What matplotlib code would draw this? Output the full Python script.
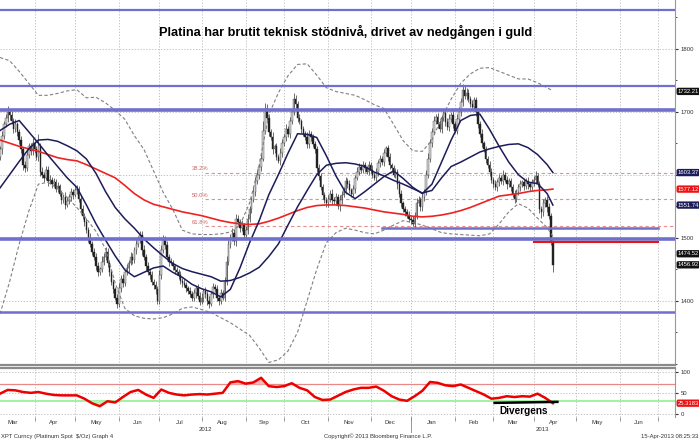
import numpy as np
import pandas as pd
import matplotlib
matplotlib.use('Agg')
import matplotlib.pyplot as plt
from matplotlib.transforms import blended_transform_factory as btf

plt.rcParams['font.family'] = ['Liberation Sans', 'DejaVu Sans']

# ---------------- data ----------------
start_date = '2012-03-07'
title = 'Platina har brutit teknisk stödnivå, drivet av nedgången i guld'

first_open = 1628
closes = [
    1640, 1662, 1680, 1690, 1700, 1695, 1685, 1672, 1680, 1668,
    1655, 1640, 1615, 1610, 1632, 1645, 1638, 1650, 1640, 1628,
    1645, 1605, 1600, 1595, 1608, 1590, 1592, 1585, 1588, 1578,
    1582, 1570, 1560, 1565, 1552, 1558, 1565, 1572, 1568, 1575,
    1578, 1562, 1545, 1535, 1525, 1512, 1500, 1490, 1478, 1470,
    1455, 1445, 1450, 1462, 1470, 1478, 1460, 1445, 1430, 1418,
    1405, 1395, 1420, 1435, 1428, 1445, 1452, 1460, 1470, 1465,
    1480, 1490, 1498, 1505, 1480, 1470, 1455, 1445, 1440, 1430,
    1425, 1418, 1400, 1440, 1480, 1498, 1488, 1470, 1462, 1460,
    1455, 1448, 1445, 1440, 1432, 1428, 1425, 1420, 1415, 1410,
    1405, 1412, 1420, 1408, 1398, 1404, 1415, 1410, 1400, 1395,
    1410, 1422, 1418, 1405, 1400, 1412, 1405, 1430, 1462, 1490,
    1500, 1508, 1495, 1530, 1525, 1515, 1520, 1505, 1512, 1530,
    1545, 1560, 1572, 1590, 1600, 1612, 1625, 1670, 1705, 1690,
    1668, 1660, 1640, 1645, 1628, 1622, 1635, 1650, 1660, 1672,
    1665, 1685, 1700, 1720, 1712, 1690, 1685, 1672, 1665, 1660,
    1648, 1665, 1660, 1648, 1640, 1610, 1598, 1580, 1568, 1560,
    1555, 1562, 1570, 1560, 1558, 1565, 1550, 1560, 1568, 1575,
    1590, 1585, 1575, 1570, 1578, 1595, 1605, 1612, 1608, 1615,
    1610, 1605, 1615, 1608, 1600, 1595, 1605, 1618, 1625, 1620,
    1635, 1642, 1628, 1615, 1610, 1600, 1605, 1585, 1570, 1555,
    1545, 1540, 1535, 1530, 1528, 1522, 1535, 1555, 1560, 1548,
    1565, 1572, 1600, 1625, 1650, 1668, 1685, 1692, 1680, 1672,
    1690, 1698, 1684, 1675, 1688, 1695, 1680, 1670, 1688, 1700,
    1715, 1735, 1725, 1730, 1720, 1712, 1708, 1718, 1700, 1680,
    1665, 1650, 1640, 1625, 1615, 1605, 1592, 1585, 1580, 1588,
    1595, 1590, 1600, 1592, 1585, 1590, 1580, 1570, 1562, 1572,
    1580, 1585, 1588, 1582, 1590, 1585, 1580, 1588, 1592, 1598,
    1585, 1545, 1540, 1555, 1560, 1548, 1535, 1495, 1456.92,
]
wick_up = [
    6, 8, 5, 7, 9, 4, 6, 5, 8, 4,  5, 7, 4, 6, 8, 5, 6, 9, 4, 6,
    20, 5, 7, 4, 6, 5, 8, 4, 6, 5,  7, 4, 6, 5, 8, 6, 4, 7, 5, 9,
    6, 4, 5, 7, 4, 6, 5, 8, 4, 6,  5, 7, 4, 9, 6, 8, 5, 4, 6, 5,
    4, 6, 8, 5, 7, 4, 6, 5, 8, 6,  5, 7, 4, 6, 5, 8, 4, 6, 5, 7,
    4, 6, 5, 8, 9, 6, 5, 7, 4, 6,  5, 4, 6, 5, 7, 4, 6, 5, 4, 6,
    5, 7, 4, 6, 5, 8, 4, 6, 5, 7,  4, 6, 5, 7, 4, 6, 5, 8, 9, 7,
    6, 8, 5, 7, 6, 5, 8, 4, 6, 7,  6, 5, 8, 6, 7, 5, 8, 15, 9, 7,
    6, 5, 8, 4, 6, 5, 7, 6, 5, 8,  6, 7, 5, 10, 6, 5, 7, 4, 6, 5,
    7, 6, 5, 4, 6, 5, 7, 4, 6, 5,  4, 6, 5, 7, 4, 6, 5, 7, 6, 5,
    7, 5, 6, 4, 6, 5, 7, 6, 5, 6,  5, 4, 6, 5, 7, 4, 6, 5, 7, 5,
    6, 4, 5, 7, 4, 6, 5, 4, 6, 5,  4, 6, 5, 7, 4, 6, 5, 8, 6, 5,
    7, 6, 8, 9, 7, 6, 8, 5, 6, 7,  5, 6, 7, 6, 8, 5, 7, 6, 8, 7,
    6, 9, 5, 7, 6, 5, 7, 6, 5, 6,  5, 7, 4, 6, 5, 6, 5, 4, 6, 5,
    6, 5, 7, 4, 6, 5, 4, 6, 5, 6,  5, 6, 4, 6, 5, 6, 4, 5, 6, 8,
    4, 5, 6, 7, 5, 6, 7, 4, 2,
]
wick_dn = [
    5, 7, 6, 4, 6, 8, 5, 6, 4, 7,  6, 5, 8, 6, 4, 5, 7, 6, 5, 4,
    6, 7, 5, 6, 4, 8, 5, 6, 4, 5,  6, 4, 7, 5, 6, 4, 5, 7, 6, 4,
    5, 6, 8, 5, 6, 4, 7, 5, 6, 5,  7, 6, 4, 5, 6, 5, 7, 6, 5, 6,
    4, 6, 5, 7, 6, 4, 5, 6, 4, 7,  5, 6, 4, 6, 7, 5, 6, 4, 6, 5,
    6, 7, 5, 6, 5, 4, 6, 5, 7, 4,  6, 5, 4, 6, 5, 7, 4, 6, 5, 4,
    6, 5, 7, 6, 5, 4, 6, 5, 7, 6,  4, 6, 5, 6, 7, 5, 4, 6, 5, 6,
    7, 5, 6, 8, 5, 6, 4, 7, 5, 6,  5, 6, 4, 6, 5, 7, 6, 4, 5, 7,
    6, 5, 7, 6, 5, 4, 6, 7, 5, 6,  5, 6, 4, 5, 6, 7, 5, 6, 4, 5,
    6, 5, 7, 4, 6, 5, 6, 4, 7, 5,  6, 7, 5, 6, 4, 6, 5, 7, 6, 4,
    5, 6, 4, 6, 5, 7, 4, 6, 5, 6,  5, 4, 6, 5, 6, 4, 5, 7, 6, 5,
    6, 5, 7, 6, 5, 4, 6, 7, 5, 6,  5, 6, 4, 5, 6, 3, 6, 5, 4, 6,
    5, 6, 4, 6, 5, 6, 4, 5, 6, 5,  6, 5, 7, 4, 6, 5, 6, 4, 5, 6,
    7, 6, 5, 6, 4, 5, 6, 5, 7, 6,  5, 6, 4, 6, 5, 7, 5, 6, 4, 6,
    6, 5, 6, 4, 7, 5, 6, 5, 7, 6,  5, 6, 4, 6, 5, 7, 6, 5, 6, 7,
    5, 6, 8, 5, 6, 7, 6, 7, 12,
]

# moving averages / bands sampled every 5 trading days
ma_days = list(range(0, 286, 5)) + [288]
ma_fast = [1670, 1680, 1686, 1668, 1650, 1631, 1613, 1595, 1580, 1552,
           1522, 1496, 1471, 1449, 1438, 1445, 1452, 1455, 1445, 1437,
           1426, 1419, 1414, 1406, 1418, 1452, 1492, 1527, 1568, 1600,
           1634, 1665, 1664, 1659, 1630, 1598, 1572, 1562, 1573, 1585,
           1597, 1606, 1594, 1580, 1570, 1585, 1620, 1655, 1686, 1694,
           1696, 1672, 1645, 1620, 1600, 1588, 1586, 1570, 1551.74]
ma_slow = [1579, 1600, 1621, 1641, 1655, 1656, 1653, 1646, 1638, 1625,
           1602, 1573, 1548, 1530, 1515, 1498, 1484, 1471, 1459, 1451,
           1446, 1442, 1438, 1431, 1432, 1437, 1444, 1453, 1470, 1490,
           1520, 1549, 1575, 1600, 1615, 1618, 1619, 1617, 1613, 1604,
           1598, 1591, 1585, 1578, 1571, 1575, 1595, 1613, 1620, 1628,
           1636, 1641, 1645, 1648, 1649, 1643, 1632, 1616, 1603.37]
ma_long = [1655, 1650, 1645, 1641, 1637, 1632, 1627, 1624, 1622, 1616,
           1609, 1602, 1595, 1583, 1570, 1560, 1553, 1549, 1545, 1541,
           1538, 1535, 1531, 1527, 1524, 1522, 1521, 1522, 1526, 1531,
           1537, 1543, 1548, 1551, 1552, 1552, 1551, 1549, 1547, 1544,
           1541, 1539, 1537, 1534, 1533, 1534, 1536, 1539, 1543, 1548,
           1554, 1560, 1566, 1568, 1570, 1573, 1575, 1576, 1577.12]
bb_upper = [1786, 1781, 1764, 1745, 1726, 1726, 1729, 1733, 1735, 1722,
            1723, 1714, 1702, 1688, 1662, 1640, 1606, 1572, 1545, 1512,
            1506, 1505, 1505, 1506, 1509, 1520, 1555, 1615, 1695, 1730,
            1757, 1775, 1776, 1758, 1738, 1732, 1729, 1726, 1719, 1711,
            1705, 1680, 1654, 1638, 1637, 1655, 1690, 1720, 1745, 1760,
            1769, 1770, 1764, 1758, 1752, 1752, 1746, 1738, 1733]
bb_lower = [1379, 1430, 1490, 1542, 1585, 1588, 1578, 1564, 1548, 1530,
            1510, 1482, 1428, 1388, 1376, 1372, 1371, 1373, 1379, 1388,
            1390, 1386, 1381, 1373, 1365, 1355, 1345, 1325, 1302, 1306,
            1320, 1350, 1400, 1450, 1492, 1508, 1515, 1512, 1508, 1506,
            1512, 1520, 1527, 1524, 1520, 1514, 1508, 1506, 1505, 1504,
            1503, 1506, 1522, 1541, 1554, 1547, 1531, 1516, 1502]

rsi_days = list(range(0, 289, 4))
rsi = [48, 57, 56, 52, 50, 52, 48, 45, 44, 44, 44, 36, 25, 18, 30, 27, 40, 52, 57, 46,
       38, 58, 50, 46, 44, 46, 47, 46, 48, 50, 75, 78, 72, 75, 86, 66, 64, 66, 73, 62,
       56, 40, 33, 34, 43, 52, 58, 62, 62, 65, 55, 42, 34, 31, 42, 55, 76, 74, 68, 66,
       70, 62, 54, 46, 36, 38, 42, 40, 42, 41, 48, 38, 25.32]
rsi_upper, rsi_lower = 70, 30
divergence_days = [257, 291]
divergence_rsi = [26, 28.5]

levels_full = [1861, 1740, 1703, 1498, 1382]
levels_full_width = [1.6, 1.6, 2.6, 2.6, 1.8]
support_short = (1516, '2012-12-11', '2013-07-01')
break_line = (1493, '2013-04-01', '2013-07-01')
fib_low, fib_high = 1382, 1740
fib_ratios = [0.382, 0.5, 0.618]
fib_start = '2012-07-25'

tag_values = [1732.21, 1603.37, 1577.12, 1551.74, 1474.52, 1456.92]
tag_colors = ['#111111', '#1c1c5a', '#ee1111', '#1c1c5a', '#111111', '#111111']
rsi_tag = 25.3183

# ---------------- layout ----------------
W, H = 699, 440
fig = plt.figure(figsize=(W / 100, H / 100), dpi=100)
fig.patch.set_facecolor('white')
ax = fig.add_axes([0, 75 / H, 675 / W, 365 / H])
ax2 = fig.add_axes([0, 23 / H, 675 / W, 49 / H])

n_view = 351.6
days = pd.bdate_range('2012-03-01', '2013-07-31')
off = days.get_loc(pd.Timestamp(start_date))
pos = np.arange(len(days)) - off

def day_index(d):
    return pos[days.get_loc(pd.Timestamp(d))]

months = pd.Series(pos, index=days).groupby([days.year, days.month])
month_starts, month_centers, month_names = [], [], []
for (yy, mm), s in months:
    st, en = s.iloc[0], s.iloc[-1]
    if 0 < st < n_view:
        month_starts.append(st)
    cen = (st + en) / 2
    if 0 < cen < n_view - 8:
        month_centers.append(cen)
        month_names.append(pd.Timestamp(year=yy, month=mm, day=1).strftime('%b'))

grid_kw = dict(color='#b8b8b8', lw=0.6, ls=(0, (1.5, 2)), zorder=0.5)
for a in (ax, ax2):
    for m in month_starts:
        a.axvline(m, **grid_kw)
for yv in [1300, 1400, 1500, 1600, 1700, 1800]:
    ax.axhline(yv, **grid_kw)
for yv in [0, 50, 100]:
    ax2.axhline(yv, **grid_kw)

# candles
c = np.array(closes, dtype=float)
o = np.concatenate([[first_open], c[:-1]])
hi = np.maximum(o, c) + np.array(wick_up)
lo = np.minimum(o, c) - np.array(wick_dn)
idx = np.arange(len(c))
up = c >= o
ax.vlines(idx, lo, hi, color='#444444', lw=0.55, zorder=2)
ax.bar(idx[up], (c - o)[up], bottom=o[up], width=0.8, color='#d4d4d4',
       edgecolor='#444444', lw=0.3, zorder=2.2)
ax.bar(idx[~up], (o - c)[~up], bottom=c[~up], width=0.8, color='#222222',
       edgecolor='#222222', lw=0.3, zorder=2.2)

# indicators
ax.plot(ma_days, bb_upper, color='#808080', lw=0.8, ls=(0, (3, 2)), zorder=2.6)
ax.plot(ma_days, bb_lower, color='#808080', lw=0.8, ls=(0, (3, 2)), zorder=2.6)
ax.plot(ma_days, ma_long, color='#ee2222', lw=1.2, zorder=3)
ax.plot(ma_days, ma_slow, color='#1c1c5a', lw=1.1, zorder=3)
ax.plot(ma_days, ma_fast, color='#1c1c5a', lw=1.1, zorder=3)

# levels
lvl_color = '#6f6fcc'
for yv, lw in zip(levels_full, levels_full_width):
    ax.axhline(yv, color=lvl_color, lw=lw, zorder=3.5)
yv, d0, d1 = support_short
ax.plot([day_index(d0), day_index(d1)], [yv, yv], color=lvl_color, lw=1.8, zorder=3.5)
yv, d0, d1 = break_line
ax.plot([day_index(d0), day_index(d1)], [yv, yv], color='#ee1111', lw=1.5, zorder=3.6)

# fibonacci
fs = day_index(fib_start)
for r in fib_ratios:
    fv = fib_high - r * (fib_high - fib_low)
    ax.plot([fs + 7, n_view], [fv, fv], color='#e39090', lw=0.8, ls=(0, (3, 2.5)), zorder=1.8)
    ax.text(fs, fv + 2, f'{r * 100:.1f}%', color='#d06060', fontsize=4.2,
            ha='left', va='bottom', zorder=4)

ax.set_xlim(0, n_view)
ax.set_ylim(1297.9, 1877.3)

ax.yaxis.tick_right()
ax.set_yticks([1400, 1500, 1600, 1700, 1800])
ax.set_yticklabels(['1400', '1500', '', '1700', '1800'])
ax.set_yticks([1300, 1350, 1450, 1550, 1650, 1750, 1850], minor=True)
ax.tick_params(axis='y', which='major', length=2.5, width=0.8, pad=1.5,
               labelsize=4.3, labelcolor='#333333', color='#333333')
ax.tick_params(axis='y', which='minor', length=1.5, width=0.6, color='#333333')
ax.set_xticks([])
for s in ['left', 'top']:
    ax.spines[s].set_visible(False)
ax.spines['right'].set_color('#999999')
ax.spines['bottom'].set_color('#8a8a8a')
ax.spines['bottom'].set_linewidth(1.6)

trans = btf(ax.transAxes, ax.transData)
for v, col in zip(tag_values, tag_colors):
    ax.text(1.004, v, f'{v:.2f}', transform=trans, ha='left', va='center',
            fontsize=4.2, color='white', zorder=10, clip_on=False,
            bbox=dict(boxstyle='round,pad=0.2,rounding_size=0.3', fc=col, ec='none'))

# ---------------- RSI panel ----------------
rd = np.array(rsi_days, dtype=float)
rv = np.array(rsi, dtype=float)
ax2.axhline(rsi_upper, color='#e88888', lw=0.9, zorder=1)
ax2.axhline(rsi_lower, color='#88ee88', lw=1.1, zorder=1)
ax2.fill_between(rd, rv, rsi_upper, where=rv > rsi_upper, interpolate=True,
                 color='#f3b8b8', lw=0, zorder=1.5)
ax2.fill_between(rd, rv, rsi_lower, where=rv < rsi_lower, interpolate=True,
                 color='#b8f0b8', lw=0, zorder=1.5)
ax2.plot(rd, rv, color='#ee0000', lw=1.8, zorder=3)
ax2.plot(divergence_days, divergence_rsi, color='black', lw=1.8, zorder=4,
         solid_capstyle='butt', clip_on=False)
ax2.text(np.mean(divergence_days) - 1, 7, 'Divergens', fontsize=7.2, fontweight='bold',
         ha='center', va='center', zorder=5, clip_on=False)

ax2.set_xlim(0, n_view)
ax2.set_ylim(-7.7, 109.4)
ax2.yaxis.tick_right()
ax2.set_yticks([0, 50, 100])
ax2.tick_params(axis='y', length=2.5, width=0.8, pad=1.5, labelsize=4.3,
                labelcolor='#333333', color='#333333')
ax2.set_xticks(month_starts)
ax2.set_xticklabels([])
ax2.set_xticks(month_centers, minor=True)
ax2.set_xticklabels(month_names, minor=True)
ax2.tick_params(axis='x', which='major', length=3, width=0.6, color='#888888', direction='out')
ax2.tick_params(axis='x', which='minor', length=0, pad=2, labelsize=4.3, labelcolor='#333333')
ax2.spines['left'].set_visible(False)
ax2.spines['bottom'].set_visible(False)
ax2.spines['right'].set_color('#999999')
ax2.spines['top'].set_color('#8a8a8a')
ax2.spines['top'].set_linewidth(1.6)

t2 = btf(ax2.transAxes, ax2.transData)
ax2.text(1.004, rsi_tag, f'{rsi_tag:.4f}', transform=t2, ha='left', va='center',
         fontsize=4.2, color='white', zorder=10, clip_on=False,
         bbox=dict(boxstyle='round,pad=0.2,rounding_size=0.3', fc='#ee1111', ec='none'))

yr = btf(ax2.transData, ax2.transAxes)
jan13 = day_index('2013-01-01')
ax2.text(jan13 / 2, -0.245, '2012', transform=yr, ha='center', va='center',
         fontsize=4.3, color='#333333')
ax2.text((jan13 + n_view) / 2, -0.245, '2013', transform=yr, ha='center', va='center',
         fontsize=4.3, color='#333333')
ax2.plot([jan13, jan13], [0, -0.3], transform=yr, color='#888888', lw=0.6, clip_on=False)

fig.text(345.5 / W, 1 - 32 / H, title, ha='center', va='center', fontsize=9.2,
         fontweight='bold', color='black')
fig.text(1 / W, 4 / H, 'XPT Curncy (Platinum Spot  $/Oz) Graph 4', ha='left',
         va='center', fontsize=4.2, color='#333333')
fig.text(378 / W, 4 / H, 'Copyright© 2013 Bloomberg Finance L.P.', ha='center',
         va='center', fontsize=4.2, color='#333333')
fig.text(698 / W, 4 / H, '15-Apr-2013 08:25:33', ha='right', va='center',
         fontsize=4.2, color='#333333')

fig.savefig('out.png', dpi=100)
